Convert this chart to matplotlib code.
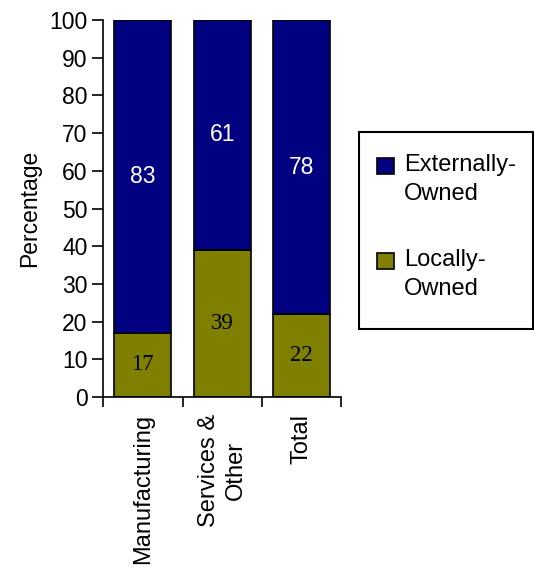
import matplotlib
matplotlib.use("Agg")
import matplotlib.pyplot as plt
from matplotlib.patches import Rectangle

plt.rcParams['font.family'] = ['Liberation Sans', 'DejaVu Sans']

categories = ['Manufacturing', 'Services &\nOther', 'Total']
locally_owned = [17, 39, 22]
externally_owned = [83, 61, 78]
series_names = ['Externally-\nOwned', 'Locally-\nOwned']
navy = '#000080'
olive = '#808000'

fs = 16.5

fig = plt.figure(figsize=(5.34, 5.70), dpi=100)
ax = fig.add_axes([0.1929, 0.3035, 0.4466, 0.6614])

x = list(range(len(categories)))
ax.bar(x, locally_owned, width=0.72, color=olive, edgecolor='black', linewidth=1.2)
ax.bar(x, externally_owned, width=0.72, bottom=locally_owned, color=navy,
       edgecolor='black', linewidth=1.2)

for i, (lo, ex) in enumerate(zip(locally_owned, externally_owned)):
    ax.text(i, lo / 2, str(lo), ha='center', va='center', fontsize=fs,
            family='Liberation Serif', color='black')
    ax.text(i, lo + ex / 2, str(ex), ha='center', va='center', fontsize=fs,
            color='white')

ax.set_xlim(-0.5, len(categories) - 0.5)
ax.set_ylim(0, 100)
ax.set_yticks(range(0, 101, 10))
ax.tick_params(axis='y', direction='out', length=8, width=1.2, labelsize=fs, pad=3)

ax.set_xticks(x)
ax.set_xticklabels(categories, rotation=90, fontsize=17, va='top', ha='center',
                   multialignment='center', linespacing=1.3)
ax.tick_params(axis='x', which='major', length=0, pad=12)
ax.set_xticks([i - 0.5 for i in range(len(categories) + 1)], minor=True)
ax.tick_params(axis='x', which='minor', direction='out', length=7, width=1.2)

ax.spines['top'].set_visible(False)
ax.spines['right'].set_visible(False)
ax.spines['left'].set_linewidth(1.2)
ax.spines['bottom'].set_linewidth(1.2)

ax.set_ylabel('Percentage', fontsize=fs, labelpad=6)

# legend drawn by hand so each swatch sits on the first line of its label
W, H = 534, 570
fig.patches.append(Rectangle((359 / W, 1 - 329 / H), 174 / W, 197 / H,
                             transform=fig.transFigure, facecolor='white',
                             edgecolor='black', linewidth=1.5))
for name, color, top in zip(series_names, [navy, olive], [158, 253]):
    fig.patches.append(Rectangle((377 / W, 1 - (top + 16) / H), 17 / W, 16 / H,
                                 transform=fig.transFigure, facecolor=color,
                                 edgecolor='black', linewidth=1.2))
    fig.text(404 / W, 1 - (top - 4) / H, name, fontsize=17, va='top', ha='left',
             linespacing=1.4)

fig.savefig('out.png', dpi=100)
